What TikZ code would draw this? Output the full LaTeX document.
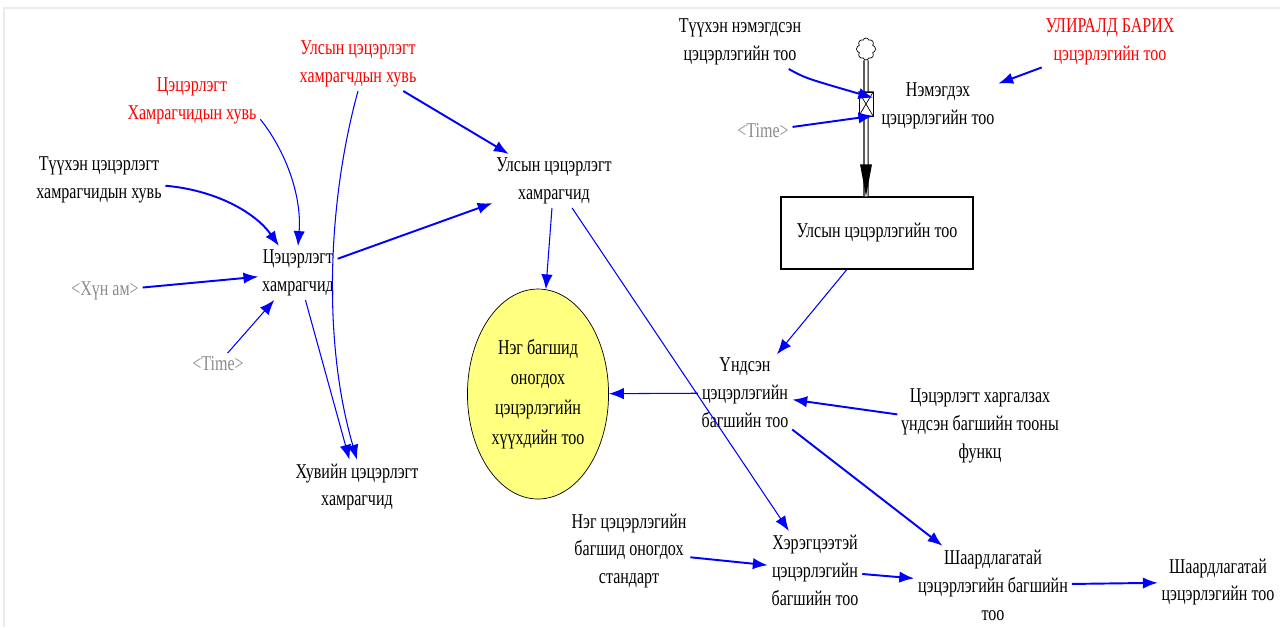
\documentclass[tikz,border=0pt]{standalone}
\usepackage{fontspec}
\setmainfont{Liberation Serif}[FakeStretch=0.76]
\usetikzlibrary{arrows.meta,shapes.geometric,shapes.symbols}

\definecolor{vblue}{RGB}{0,0,255}
\definecolor{vred}{RGB}{255,0,0}
\definecolor{vgray}{RGB}{140,140,140}
\definecolor{vyellow}{RGB}{255,255,128}

\begin{document}
\begin{tikzpicture}[x=0.02cm, y=-0.02cm,
    lbl/.style={align=center, font=\fontsize{12pt}{15.9pt}\selectfont, inner sep=2pt},
    redlbl/.style={lbl, text=vred},
    shadowlbl/.style={lbl, text=vgray},
    link/.style={vblue, line width=1.1pt, -{Latex[length=8.5pt,width=6.5pt]}},
    thinlink/.style={vblue, line width=0.6pt, -{Latex[length=8.5pt,width=6.5pt]}}]

    \useasboundingbox (0,0) rectangle (1280,627);
    \draw[black!8, line width=1.2pt] (4,627) -- (4,8) -- (1280,8);

    % хувьсагчид
    \node[redlbl] (ulsHuvi) at (358,64) {Улсын цэцэрлэгт\\хамрагчдын хувь};
    \node[redlbl] (tsHuvi) at (192,101) {Цэцэрлэгт\\Хамрагчидын хувь};
    \node[lbl] (tuuhHuvi) at (99,180) {Түүхэн цэцэрлэгт\\хамрагчидын хувь};
    \node[lbl] (tsHamr) at (298,273) {Цэцэрлэгт\\хамрагчид};
    \node[shadowlbl] (hunAm) at (105,291) {<Хүн ам>};
    \node[shadowlbl] (timeA) at (218,364) {<Time>};
    \node[lbl] (huviin) at (357,487) {Хувийн цэцэрлэгт\\хамрагчид};
    \node[lbl] (ulsHamr) at (554,181) {Улсын цэцэрлэгт\\хамрагчид};
    \node[lbl, ellipse, draw, fill=vyellow, minimum width=2.82cm, minimum height=4.2cm,
        font=\fontsize{12pt}{17pt}\selectfont] (neg) at (538,394)
        {Нэг багшид\\оногдох\\цэцэрлэгийн\\хүүхдийн тоо};

    \node[lbl] (tuuhNem) at (740,42) {Түүхэн нэмэгдсэн\\цэцэрлэгийн тоо};
    \node[redlbl] (uliral) at (1110,42) {УЛИРАЛД БАРИХ\\цэцэрлэгийн тоо};
    \node[lbl] (nemegdeh) at (938,106) {Нэмэгдэх\\цэцэрлэгийн тоо};
    \node[shadowlbl] (timeB) at (763,131) {<Time>};
    \node[lbl, draw, line width=0.8pt, minimum width=3.84cm, minimum height=1.44cm]
        (ulsToo) at (877,233) {Улсын цэцэрлэгийн тоо};

    \node[lbl] (undsen) at (745,393) {Үндсэн\\цэцэрлэгийн\\багшийн тоо};
    \node[lbl] (hargalzah) at (980,426) {Цэцэрлэгт харгалзах\\үндсэн багшийн тооны\\функц};
    \node[lbl] (standart) at (629,551) {Нэг цэцэрлэгийн\\багшид оногдох\\стандарт};
    \node[lbl] (heregtsee) at (815,570) {Хэрэгцээтэй\\цэцэрлэгийн\\багшийн тоо};
    \node[lbl] (shaardBagsh) at (993,585) {Шаардлагатай\\цэцэрлэгийн багшийн\\тоо};
    \node[lbl] (shaardToo) at (1218,582) {Шаардлагатай\\цэцэрлэгийн тоо};

    % урсгал
    \node[cloud, cloud puffs=8, cloud ignores aspect, draw, fill=white, inner sep=0pt,
        minimum width=0.38cm, minimum height=0.44cm] (src) at (866,49) {};
    \draw[black, line width=0.6pt, double distance=1.7pt]
        (src.south) -- ([xshift=-0.22cm]ulsToo.north);
    \fill ([xshift=-0.22cm]ulsToo.north) -- ++(-6,-32) -- ++(12,0) -- cycle;
    \node[draw, fill=white, inner sep=0pt, minimum width=0.28cm, minimum height=0.48cm]
        (valve) at (866,104) {};
    \draw (valve.north west) -- (valve.south east) -- (valve.south west)
        -- (valve.north east) -- cycle;

    % холбоосууд
    \draw[link] (tuuhHuvi) .. controls (215,190) and (255,212) .. (tsHamr);
    \draw[thinlink] (tsHuvi.-15) .. controls (285,150) and (302,195) .. (tsHamr.north);
    \draw[thinlink] (ulsHuvi.south) .. controls (328,200) and (322,340) .. (huviin.north);
    \draw[link] (ulsHuvi) -- (ulsHamr);
    \draw[link] (tsHamr) -- (ulsHamr);
    \draw[link] (hunAm) -- (tsHamr);
    \draw[thinlink] (timeA) -- (tsHamr);
    \draw[thinlink] (tsHamr) -- (huviin);
    \draw[thinlink] (ulsHamr) -- (neg);
    \draw[thinlink] (ulsHamr) -- (heregtsee);

    \draw[link] (tuuhNem) .. controls (805,78) .. (valve.40);
    \draw[link] (timeB) -- (valve.-58);
    \draw[link] (uliral) -- (nemegdeh);
    \draw[thinlink] (ulsToo) -- (undsen);
    \draw[thinlink] (undsen) -- (neg);
    \draw[link] (hargalzah) -- (undsen);
    \draw[link] (undsen) -- (shaardBagsh);
    \draw[link] (standart) -- (heregtsee);
    \draw[link] (heregtsee) -- (shaardBagsh);
    \draw[link] (shaardBagsh) -- (shaardToo);

\end{tikzpicture}
\end{document}
